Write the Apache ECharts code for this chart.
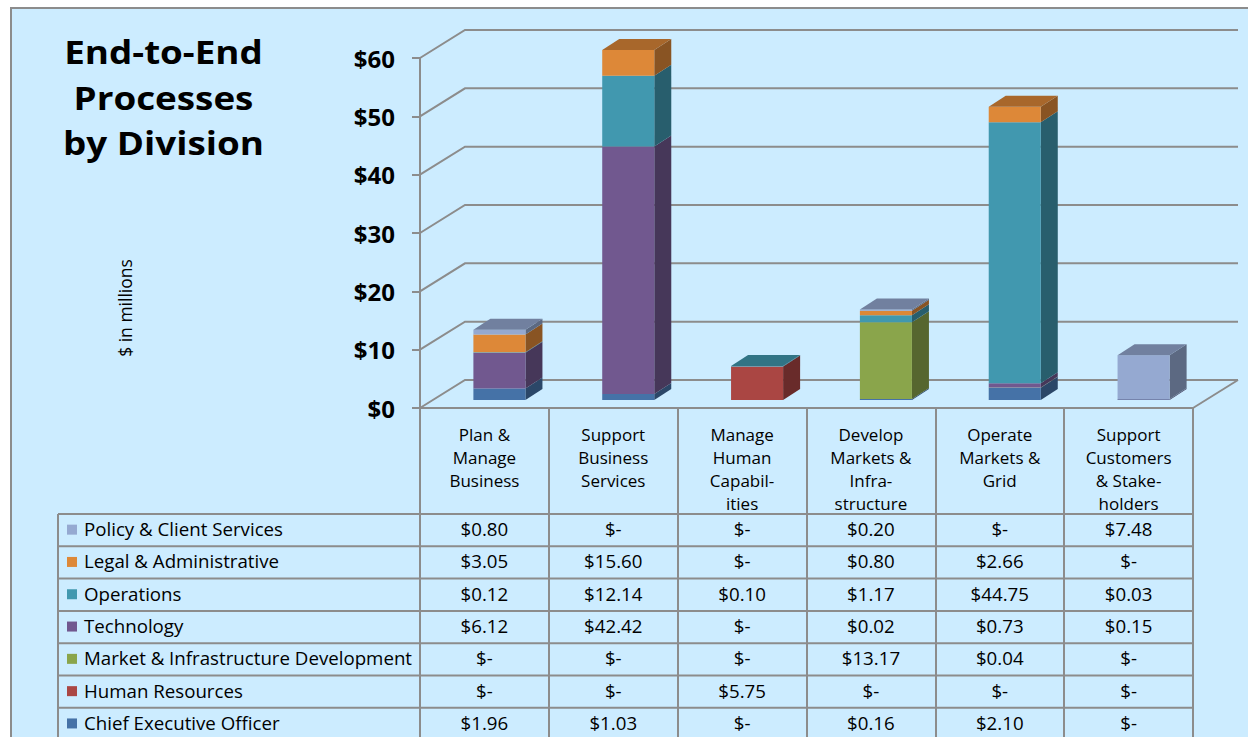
<!DOCTYPE html>
<html>
<head>
<meta charset="utf-8">
<script src="https://cdn.jsdelivr.net/npm/echarts@6/dist/echarts.min.js"></script>
<style>
html, body { margin: 0; padding: 0; background: #ffffff; }
#wrap { position: relative; width: 1248px; height: 737px; overflow: hidden; }
#panel { position: absolute; left: 10px; top: 7px; width: 1300px; height: 800px; background: #CCECFF; border-left: 2px solid #8c8c8c; border-top: 2px solid #8c8c8c; }
#c { position: absolute; left: 0; top: 0; width: 1248px; height: 737px; }
</style>
</head>
<body>
<div id="wrap"><div id="panel"></div><div id="c"></div></div>
<script>
// ---- data ----
const categories = [
  'Plan &\nManage\nBusiness',
  'Support\nBusiness\nServices',
  'Manage\nHuman\nCapabil-\nities',
  'Develop\nMarkets &\nInfra-\nstructure',
  'Operate\nMarkets &\nGrid',
  'Support\nCustomers\n& Stake-\nholders'
];
const seriesNames = [
  'Policy & Client Services',
  'Legal & Administrative',
  'Operations',
  'Technology',
  'Market & Infrastructure Development',
  'Human Resources',
  'Chief Executive Officer'
];
const policy      = [0.80, 0,     0,    0.20,  0,     7.48];
const legal       = [3.05, 15.60, 0,    0.80,  2.66,  0];
const operations  = [0.12, 12.14, 0.10, 1.17,  44.75, 0.03];
const technology  = [6.12, 42.42, 0,    0.02,  0.73,  0.15];
const marketInfra = [0,    0,     0,    13.17, 0.04,  0];
const humanRes    = [0,    0,     5.75, 0,     0,     0];
const ceo         = [1.96, 1.03,  0,    0.16,  2.10,  0];
const yTicks = [0, 10, 20, 30, 40, 50, 60];
const colors = ['#95A9D1', '#DD8838', '#4198AF', '#71588F', '#8AA54B', '#AA4643', '#4572A7'];
const titleText = 'End-to-End\nProcesses\nby Division';
const yAxisTitle = '$ in millions';

const seriesValues = [policy, legal, operations, technology, marketInfra, humanRes, ceo];
const stackOrder = [6, 5, 4, 3, 2, 1, 0]; // bottom -> top

// ---- layout constants ----
const FONT = '"Open Sans"';
const GRID = { left: 420, top: 58, width: 773, height: 350 };
const WALL_DX = 45, WALL_DY = -28;
const BAR_DX = 15, BAR_DY = -8;
const SIDE_DX = 17, SIDE_DY = -11;
const BAR_W = 0.404;
const LINE = '#8c8c8c';
const yMin = 0, yMax = 60, yStep = 10;

function shade(hex, f) {
  const n = parseInt(hex.slice(1), 16);
  const r = Math.round(((n >> 16) & 255) * f), g = Math.round(((n >> 8) & 255) * f), b = Math.round((n & 255) * f);
  return 'rgb(' + r + ',' + g + ',' + b + ')';
}

const chart = echarts.init(document.getElementById('c'), null, { renderer: 'svg' });

const wallSeries = {
  type: 'custom', name: 'wall', silent: true, z: 1,
  data: yTicks.map(v => [0, v]),
  encode: { x: 0, y: 1 },
  renderItem: function (params, api) {
    const cs = params.coordSys;
    const v = api.value(1);
    const y = api.coord([0, v])[1];
    const x0 = cs.x, x1 = cs.x + cs.width;
    const kids = [{
      type: 'polyline',
      shape: { points: [[x0, y], [x0 + WALL_DX, y + WALL_DY], [x1 + WALL_DX, y + WALL_DY]] },
      style: { stroke: LINE, lineWidth: 2, fill: null }
    }];
    if (v === yMin) {
      kids.push({ type: 'line', shape: { x1: x1, y1: y, x2: x1 + WALL_DX, y2: y + WALL_DY }, style: { stroke: LINE, lineWidth: 2 } });
    }
    return { type: 'group', children: kids };
  }
};

const barSeries = stackOrder.map(function (si, k) {
  const color = colors[si];
  const data = categories.map(function (c, i) {
    let base = 0;
    for (let j = 0; j < k; j++) base += seriesValues[stackOrder[j]][i];
    const v = seriesValues[si][i];
    let isTop = 1;
    for (let j = k + 1; j < stackOrder.length; j++) if (seriesValues[stackOrder[j]][i] > 0) isTop = 0;
    return [i, base + v, base, isTop];
  });
  return {
    type: 'custom', name: seriesNames[si], z: 3, silent: true,
    data: data,
    encode: { x: 0, y: 1 },
    renderItem: function (params, api) {
      const i = api.value(0);
      const t = Math.min(api.value(1), yMax), b = Math.min(api.value(2), yMax);
      if (!(t > b)) return null;
      const c0 = api.coord([i, b]), c1 = api.coord([i, t]);
      const bw = api.size([1, 0])[0] * BAR_W;
      const xl = c0[0] - bw / 2 + BAR_DX, xr = xl + bw;
      const yb = c0[1] + BAR_DY, yt = c1[1] + BAR_DY;
      const kids = [
        { type: 'polygon', shape: { points: [[xr, yb], [xr + SIDE_DX, yb + SIDE_DY], [xr + SIDE_DX, yt + SIDE_DY], [xr, yt]] }, style: { fill: shade(color, 0.62) } },
        { type: 'rect', shape: { x: xl, y: yt, width: bw, height: yb - yt }, style: { fill: color } }
      ];
      if (api.value(3) === 1) {
        kids.push({ type: 'polygon', shape: { points: [[xl, yt], [xl + SIDE_DX, yt + SIDE_DY], [xr + SIDE_DX, yt + SIDE_DY], [xr, yt]] }, style: { fill: shade(color, 0.76) } });
      }
      return { type: 'group', children: kids };
    }
  };
});

// ---- data table + titles (graphic) ----
const TABLE_TOP = 514, ROW_H = 32.3, TABLE_LEFT = 58, LABEL_X = 84;
const colW = GRID.width / categories.length;
const graphics = [];
for (let r = 0; r <= seriesNames.length; r++) {
  const y = TABLE_TOP + r * ROW_H;
  graphics.push({ type: 'line', z: 5, shape: { x1: TABLE_LEFT, y1: y, x2: GRID.left + GRID.width, y2: y }, style: { stroke: LINE, lineWidth: 2 } });
}
graphics.push({ type: 'line', z: 5, shape: { x1: TABLE_LEFT, y1: TABLE_TOP, x2: TABLE_LEFT, y2: 760 }, style: { stroke: LINE, lineWidth: 2 } });
seriesNames.forEach(function (name, r) {
  const cy = TABLE_TOP + (r + 0.5) * ROW_H - 1.5;
  graphics.push({ type: 'rect', z: 5, shape: { x: 67, y: cy - 4, width: 10, height: 10 }, style: { fill: colors[r] } });
  graphics.push({ type: 'text', z: 5, x: LABEL_X, y: cy, style: { text: name, fill: '#000', font: '18.7px ' + FONT, textAlign: 'left', textVerticalAlign: 'middle' } });
  seriesValues[r].forEach(function (v, i) {
    graphics.push({ type: 'text', z: 5, x: GRID.left + (i + 0.5) * colW, y: cy, style: { text: v > 0 ? '$' + v.toFixed(2) : '$-', fill: '#000', font: '18.7px ' + FONT, textAlign: 'center', textVerticalAlign: 'middle' } });
  });
});
graphics.push({ type: 'text', z: 5, x: 125, y: 308, rotation: Math.PI / 2, style: { text: yAxisTitle, fill: '#000', font: '17.5px ' + FONT, textAlign: 'center', textVerticalAlign: 'middle' } });
graphics.push({ type: 'text', z: 5, x: 163.5, y: 29, scaleX: 1.15, style: { text: titleText, fill: '#000', font: 'bold 32px ' + FONT, lineHeight: 45.5, textAlign: 'center', textVerticalAlign: 'top' } });

chart.setOption({
  animation: false,
  backgroundColor: 'transparent',
  grid: GRID,
  xAxis: {
    type: 'category', data: categories, boundaryGap: true,
    axisLine: { show: true, lineStyle: { color: LINE, width: 2 } },
    axisTick: { show: true, interval: 0, length: 340, lineStyle: { color: LINE, width: 2 } },
    axisLabel: { interval: 0, margin: 15, fontFamily: FONT, fontSize: 17, lineHeight: 23, color: '#000' },
    splitLine: { show: false }
  },
  yAxis: {
    type: 'value', min: yMin, max: yMax, interval: yStep,
    axisLine: { show: true, lineStyle: { color: LINE, width: 2 } },
    axisTick: { show: true, length: 8, lineStyle: { color: LINE, width: 2 } },
    axisLabel: { margin: 25, fontFamily: FONT, fontSize: 24, fontWeight: 'bold', color: '#000', formatter: '${value}' },
    splitLine: { show: false }
  },
  graphic: graphics,
  series: [wallSeries].concat(barSeries)
});
</script>
</body>
</html>
